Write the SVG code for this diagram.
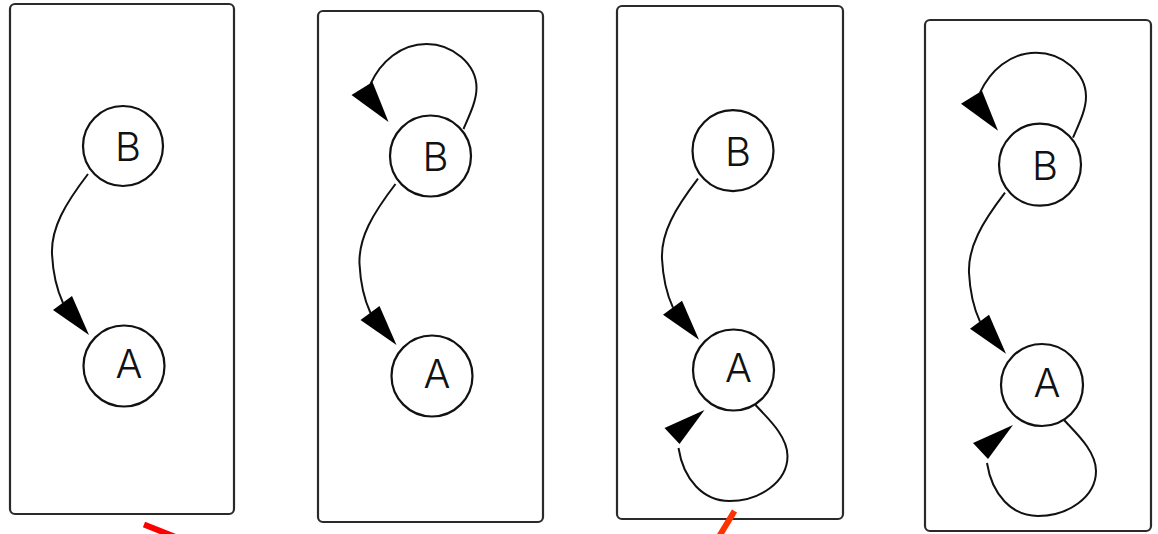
<svg xmlns="http://www.w3.org/2000/svg" width="1158" height="534" viewBox="0 0 1158 534">
  <defs>
    <style>
      .frame { fill: #ffffff; stroke: #2a2a2a; stroke-width: 2.2; }
      .node circle { fill: #ffffff; stroke: #111111; stroke-width: 2.2; }
      .node text { font-family: "Inter", "Liberation Sans", sans-serif; font-weight: 300; font-size: 40px; fill: #111111; text-anchor: middle; }
      .edge { fill: none; stroke: #111111; stroke-width: 2; }
      .head { fill: #000000; stroke: none; }
      .mark { fill: none; stroke-width: 6; stroke-linecap: butt; }
    </style>
    <!-- shared edge shapes, in coordinates local to the source node centre -->
    <path id="edgeBA" d="M -35,28 C -58,58 -72,82 -71,108 C -70,128 -66,144 -60,157"/>
    <polygon id="headBA" points="-70,164 -51,150 -34,189"/>
    <path id="loopB" d="M 33,-27 C 39,-41 46,-55 46,-68 C 46,-92 22,-112 -4,-112 C -30,-112 -50,-94 -60,-72"/>
    <polygon id="headLoopB" points="-79,-61 -58,-74 -42,-34"/>
    <path id="loopA" d="M 22,35 C 34,48 54,66 54,86 C 54,112 26,131 -4,131 C -30,131 -50,110 -55,78"/>
    <polygon id="headLoopA" points="-69,58 -54,74 -29,40"/>
  </defs>

  <rect width="1158" height="534" fill="#ffffff"/>

  <!-- panel frames -->
  <g id="frames">
    <rect class="frame" x="10" y="4" width="224" height="510" rx="5"/>
    <rect class="frame" x="318" y="11" width="225" height="511" rx="5"/>
    <rect class="frame" x="617" y="6" width="226" height="513" rx="5"/>
    <rect class="frame" x="925" y="20" width="226" height="511" rx="5"/>
  </g>

  <!-- connectors -->
  <g id="connectors">
    <!-- panel 1: B -> A -->
    <g transform="translate(123,146)">
      <use href="#edgeBA" class="edge"/>
      <use href="#headBA" class="head"/>
    </g>
    <!-- panel 2: B -> B, B -> A -->
    <g transform="translate(430.5,156)">
      <use href="#loopB" class="edge"/>
      <use href="#headLoopB" class="head"/>
      <use href="#edgeBA" class="edge"/>
      <use href="#headBA" class="head"/>
    </g>
    <!-- panel 3: B -> A, A -> A -->
    <g transform="translate(733,150.7)">
      <use href="#edgeBA" class="edge"/>
      <use href="#headBA" class="head"/>
    </g>
    <g transform="translate(733.5,370)">
      <use href="#loopA" class="edge"/>
      <use href="#headLoopA" class="head"/>
    </g>
    <!-- panel 4: B -> B, B -> A, A -> A -->
    <g transform="translate(1040,164.7)">
      <use href="#loopB" class="edge"/>
      <use href="#headLoopB" class="head"/>
      <use href="#edgeBA" class="edge"/>
      <use href="#headBA" class="head"/>
    </g>
    <g transform="translate(1042,385)">
      <use href="#loopA" class="edge"/>
      <use href="#headLoopA" class="head"/>
    </g>
  </g>

  <!-- nodes -->
  <g id="p1-B" class="node" transform="translate(123,146)"><circle r="40"/><text x="5" y="15">B</text></g>
  <g id="p1-A" class="node" transform="translate(124,366)"><circle r="40.5"/><text x="5" y="12">A</text></g>
  <g id="p2-B" class="node" transform="translate(430.5,156)"><circle r="40.5"/><text x="5" y="15">B</text></g>
  <g id="p2-A" class="node" transform="translate(432,376)"><circle r="40.5"/><text x="5" y="12">A</text></g>
  <g id="p3-B" class="node" transform="translate(733,150.7)"><circle r="40.5"/><text x="5" y="15">B</text></g>
  <g id="p3-A" class="node" transform="translate(733.5,370)"><circle r="40.5"/><text x="5" y="12">A</text></g>
  <g id="p4-B" class="node" transform="translate(1040,164.7)"><circle r="41"/><text x="5" y="15">B</text></g>
  <g id="p4-A" class="node" transform="translate(1042,385)"><circle r="41"/><text x="5" y="12">A</text></g>

  <!-- red strokes along the bottom edge -->
  <g id="marks">
    <line class="mark" x1="144" y1="524.5" x2="188" y2="542" stroke="#ff0000"/>
    <line class="mark" x1="734.5" y1="511" x2="717" y2="540" stroke="#ff3300"/>
  </g>
</svg>
